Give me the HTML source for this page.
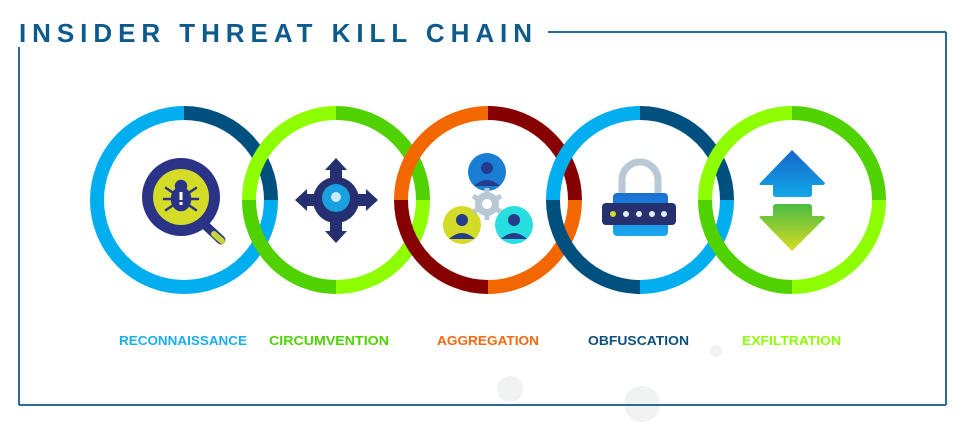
<!DOCTYPE html>
<html><head><meta charset="utf-8"><style>
html,body{margin:0;padding:0;background:#fff;}
svg{display:block;}
</style></head><body>
<svg width="974" height="431" viewBox="0 0 974 431" xmlns="http://www.w3.org/2000/svg">
<defs>
<linearGradient id="gUp" x1="0" y1="0" x2="0" y2="1"><stop offset="0" stop-color="#1565c8"/><stop offset="1" stop-color="#11a8e8"/></linearGradient>
<linearGradient id="gDn" x1="0" y1="0" x2="0" y2="1"><stop offset="0" stop-color="#4cbb44"/><stop offset="1" stop-color="#d8dc20"/></linearGradient>
<linearGradient id="gLock" x1="0" y1="0" x2="0" y2="1"><stop offset="0" stop-color="#1a6fd0"/><stop offset="1" stop-color="#1aa8ee"/></linearGradient>
</defs>
<g fill="#f1f2f2">
<circle cx="716" cy="351" r="6"/><circle cx="510" cy="389" r="13"/><circle cx="642" cy="404" r="18"/>
</g>
<g stroke="#2a6a9c" stroke-width="2" fill="none">
<line x1="548" y1="32" x2="946" y2="32"/>
<line x1="946" y1="32" x2="946" y2="405"/>
<line x1="19" y1="47" x2="19" y2="405"/>
<line x1="19" y1="405" x2="946" y2="405"/>
</g>
<text x="19" y="42" font-family="Liberation Sans, sans-serif" font-weight="bold" font-size="26" fill="#0d5a8c" textLength="513" lengthAdjust="spacing">INSIDER THREAT KILL CHAIN</text>

<g fill="none" stroke-width="14">
<path d="M97,200 A87,87 0 0 1 184,113" stroke="#00aeef"/>
<path d="M184,113 A87,87 0 0 1 271,200" stroke="#00507f"/>
<path d="M271,200 A87,87 0 0 1 97,200" stroke="#00aeef"/>
<path d="M249,200 A87,87 0 0 1 336,113" stroke="#8efd00"/>
<path d="M336,113 A87,87 0 0 1 423,200" stroke="#4fd200"/>
<path d="M423,200 A87,87 0 0 1 336,287" stroke="#8efd00"/>
<path d="M336,287 A87,87 0 0 1 249,200" stroke="#4fd200"/>
<path d="M401,200 A87,87 0 0 1 488,113" stroke="#f26700"/>
<path d="M488,113 A87,87 0 0 1 575,200" stroke="#870000"/>
<path d="M575,200 A87,87 0 0 1 488,287" stroke="#f26700"/>
<path d="M488,287 A87,87 0 0 1 401,200" stroke="#870000"/>
<path d="M553,200 A87,87 0 0 1 640,113" stroke="#00aeef"/>
<path d="M640,113 A87,87 0 0 1 727,200" stroke="#00507f"/>
<path d="M727,200 A87,87 0 0 1 640,287" stroke="#00aeef"/>
<path d="M640,287 A87,87 0 0 1 553,200" stroke="#00507f"/>
<path d="M705,200 A87,87 0 0 1 792,113" stroke="#8efd00"/>
<path d="M792,113 A87,87 0 0 1 879,200" stroke="#4fd200"/>
<path d="M879,200 A87,87 0 0 1 792,287" stroke="#8efd00"/>
<path d="M792,287 A87,87 0 0 1 705,200" stroke="#4fd200"/>
</g>

<line x1="205" y1="225" x2="221" y2="240" stroke="#2a3386" stroke-width="9" stroke-linecap="round"/>
<line x1="214" y1="234" x2="222" y2="241" stroke="#c8d43a" stroke-width="6" stroke-linecap="round"/>
<circle cx="181" cy="197" r="39" fill="#2a3386"/>
<circle cx="181" cy="197" r="28" fill="#d4dc28"/>
<g fill="#2a3386" stroke="#2a3386" stroke-width="2.5" stroke-linecap="round">
<ellipse cx="181" cy="199" rx="9" ry="11"/>
<circle cx="181" cy="186" r="5"/>
<line x1="172" y1="192" x2="166" y2="188"/><line x1="190" y1="192" x2="196" y2="188"/>
<line x1="171" y1="199" x2="164" y2="199"/><line x1="191" y1="199" x2="198" y2="199"/>
<line x1="172" y1="206" x2="166" y2="210"/><line x1="190" y1="206" x2="196" y2="210"/>
</g>
<rect x="179.5" y="192" width="3" height="8" fill="#fff"/><rect x="179.5" y="202" width="3" height="3" fill="#fff"/>

<g fill="#253070">
<polygon points="336,158 347,170 342,170 342,180 330,180 330,170 325,170"/>
<polygon points="336,243 347,231 342,231 342,221 330,221 330,231 325,231"/>
<polygon points="295,200 307,189 307,194 317,194 317,206 307,206 307,211"/>
<polygon points="378,200 366,189 366,194 356,194 356,206 366,206 366,211"/>
<circle cx="336" cy="200" r="23"/>
</g>
<circle cx="336" cy="198" r="14" fill="#1aa0e0"/>
<circle cx="336" cy="197" r="5" fill="#c8ecfa"/>

<g>
<circle cx="487" cy="172" r="19" fill="#1a7fd4"/>
<circle cx="487" cy="168" r="6" fill="#253b8c"/>
<path d="M474,186 Q487,174 500,186 Z" fill="#253b8c"/>
<circle cx="462" cy="225" r="19" fill="#d2dc28"/>
<circle cx="462" cy="220" r="6" fill="#253b8c"/>
<path d="M449,239 Q462,227 475,239 Z" fill="#253b8c"/>
<circle cx="514" cy="225" r="19" fill="#27dfe0"/>
<circle cx="514" cy="220" r="6" fill="#253b8c"/>
<path d="M501,239 Q514,227 527,239 Z" fill="#253b8c"/>
<circle cx="487" cy="204" r="12" fill="#b8c8d4"/>
<g stroke="#b8c8d4" stroke-width="5"><line x1="487" y1="188" x2="487" y2="220"/><line x1="473" y1="196" x2="501" y2="212"/><line x1="473" y1="212" x2="501" y2="196"/></g>
<circle cx="487" cy="204" r="5" fill="#fff"/>
</g>

<path d="M622,196 V180 A18,18 0 0 1 658,180 V196" fill="none" stroke="#b8c8d4" stroke-width="7"/>
<rect x="613" y="193" width="55" height="43" rx="4" fill="url(#gLock)"/>
<rect x="602" y="203" width="74" height="22" rx="4" fill="#27306e"/>
<g fill="#e4ecf8"><circle cx="613" cy="214" r="3" fill="#d4dc28"/><circle cx="626" cy="214" r="3"/><circle cx="639" cy="214" r="3"/><circle cx="652" cy="214" r="3"/><circle cx="664" cy="214" r="3"/></g>

<path d="M792,150 L825,183 Q825,185 822,185 L812,185 L812,194 Q812,197 809,197 L776,197 Q773,197 773,194 L773,185 L762,185 Q758,185 760,183 Z" fill="url(#gUp)"/>
<path d="M792,251 L825,218 Q825,216 822,216 L812,216 L812,207 Q812,204 809,204 L776,204 Q773,204 773,207 L773,216 L762,216 Q758,216 760,218 Z" fill="url(#gDn)"/>

<g font-family="Liberation Sans, sans-serif" font-weight="bold" font-size="13">
<text x="119" y="345" textLength="128" lengthAdjust="spacingAndGlyphs" fill="#1aaeef">RECONNAISSANCE</text>
<text x="269" y="345" textLength="120" lengthAdjust="spacingAndGlyphs" fill="#4fd200">CIRCUMVENTION</text>
<text x="437" y="345" textLength="102" lengthAdjust="spacingAndGlyphs" fill="#f26a10">AGGREGATION</text>
<text x="588" y="345" textLength="101" lengthAdjust="spacingAndGlyphs" fill="#0d4f80">OBFUSCATION</text>
<text x="742" y="345" textLength="99" lengthAdjust="spacingAndGlyphs" fill="#8efd00">EXFILTRATION</text>
</g>
</svg>
</body></html>
